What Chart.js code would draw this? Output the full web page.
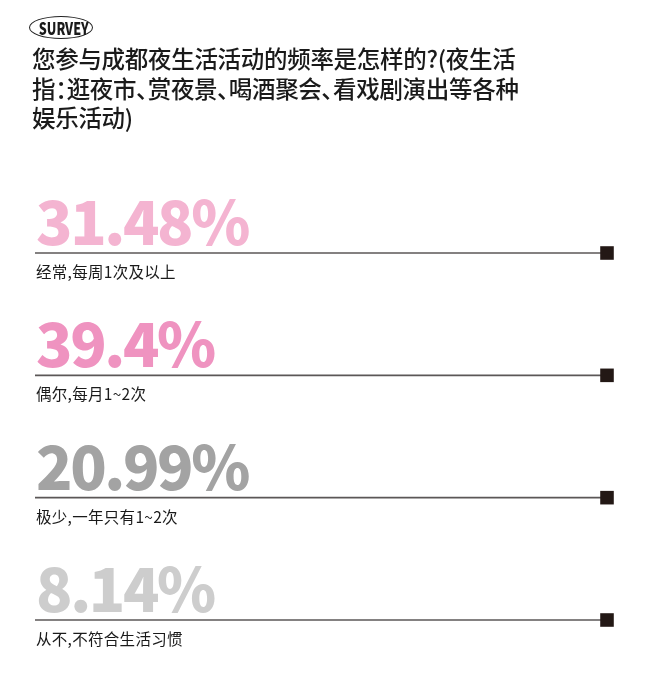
<!DOCTYPE html>
<html>
<head>
<meta charset="utf-8">
<script src="https://cdn.jsdelivr.net/npm/chart.js@4.4.1/dist/chart.umd.min.js"></script>
<style>
  html, body { margin: 0; padding: 0; background: #fff; }
  #wrap { position: relative; width: 660px; height: 679px; overflow: hidden; }
  #chartBox { position: absolute; left: 0; top: 0; width: 660px; height: 679px; }
  .badge {
    position: absolute; left: 29px; top: 16px; width: 62px; height: 21px;
    border: 1.6px solid #222; border-radius: 50%;
    text-align: center; line-height: 21px;
  }
  .badge span {
    display: inline-block; font-family: "Noto Sans CJK SC", "Noto Sans", sans-serif;
    font-weight: 900; font-size: 17px; color: #1a1a1a; transform: scaleX(0.74);
  }
  .title {
    position: absolute; left: 32px; top: 44px; width: 600px;
    font-family: "Noto Sans CJK SC", sans-serif; font-size: 23.5px; line-height: 29.5px;
    font-weight: 500; color: #1a1a1a; font-feature-settings: "palt"; letter-spacing: -0.3px;
  }
</style>
</head>
<body>
<div id="wrap">
  <div id="chartBox"><canvas id="surveyChart"></canvas></div>
  <div class="badge"><span>SURVEY</span></div>
  <div class="title">您参与成都夜生活活动的频率是怎样的?(夜生活<br>指：逛夜市、赏夜景、喝酒聚会、看戏剧演出等各种<br>娱乐活动)</div>
</div>
<script>
// Datos de la encuesta
const categorias = ['经常,每周1次及以上', '偶尔,每月1~2次', '极少,一年只有1~2次', '从不,不符合生活习惯'];
const porcentajes = [31.48, 39.4, 20.99, 8.14];
const colores = ['#f4b4d1', '#ef93c0', '#a3a3a3', '#cdcdcd'];

// Una línea horizontal por categoría, con el cuadrado al final
const datasets = categorias.map((cat, i) => ({
    label: cat,
    data: [{ x: 0, y: i }, { x: 1, y: i }],
    borderColor: '#5b5757',
    borderWidth: 1.6,
    pointStyle: 'rect',
    pointRadius: [0, 9.6],
    pointBackgroundColor: '#231815',
    pointBorderWidth: 0,
    clip: false
}));

// Plugin para escribir el porcentaje grande y la etiqueta de cada fila
const textosPlugin = {
    id: 'textos',
    afterDatasetsDraw(chart) {
        const ctx = chart.ctx;
        const xs = chart.scales.x;
        const ys = chart.scales.y;
        ctx.save();
        categorias.forEach((cat, i) => {
            const y = ys.getPixelForValue(i);
            const x = xs.getPixelForValue(0) + 1;

            ctx.fillStyle = colores[i];
            ctx.font = '900 60px "Noto Sans CJK SC", sans-serif';
            ctx.textBaseline = 'alphabetic';
            ctx.textAlign = 'left';
            ctx.letterSpacing = '-2.4px';
            ctx.fillText(porcentajes[i] + '%', x, y - 8);

            ctx.letterSpacing = '0.3px';
            ctx.fillStyle = '#1a1a1a';
            ctx.font = '15.5px "Noto Sans CJK SC", sans-serif';
            ctx.textBaseline = 'middle';
            ctx.fillText(cat, x, y + 19);
        });
        ctx.restore();
    }
};

const ctxSurvey = document.getElementById('surveyChart').getContext('2d');
new Chart(ctxSurvey, {
    type: 'line',
    data: { datasets: datasets },
    options: {
        responsive: true,
        maintainAspectRatio: false,
        animation: false,
        layout: { padding: { top: 253, bottom: 59, left: 35, right: 53 } },
        scales: {
            x: { type: 'linear', min: 0, max: 1, display: false },
            y: { type: 'linear', min: 0, max: 3, reverse: true, display: false }
        },
        plugins: {
            legend: { display: false },
            tooltip: { enabled: false }
        }
    },
    plugins: [textosPlugin]
});
</script>
</body>
</html>
